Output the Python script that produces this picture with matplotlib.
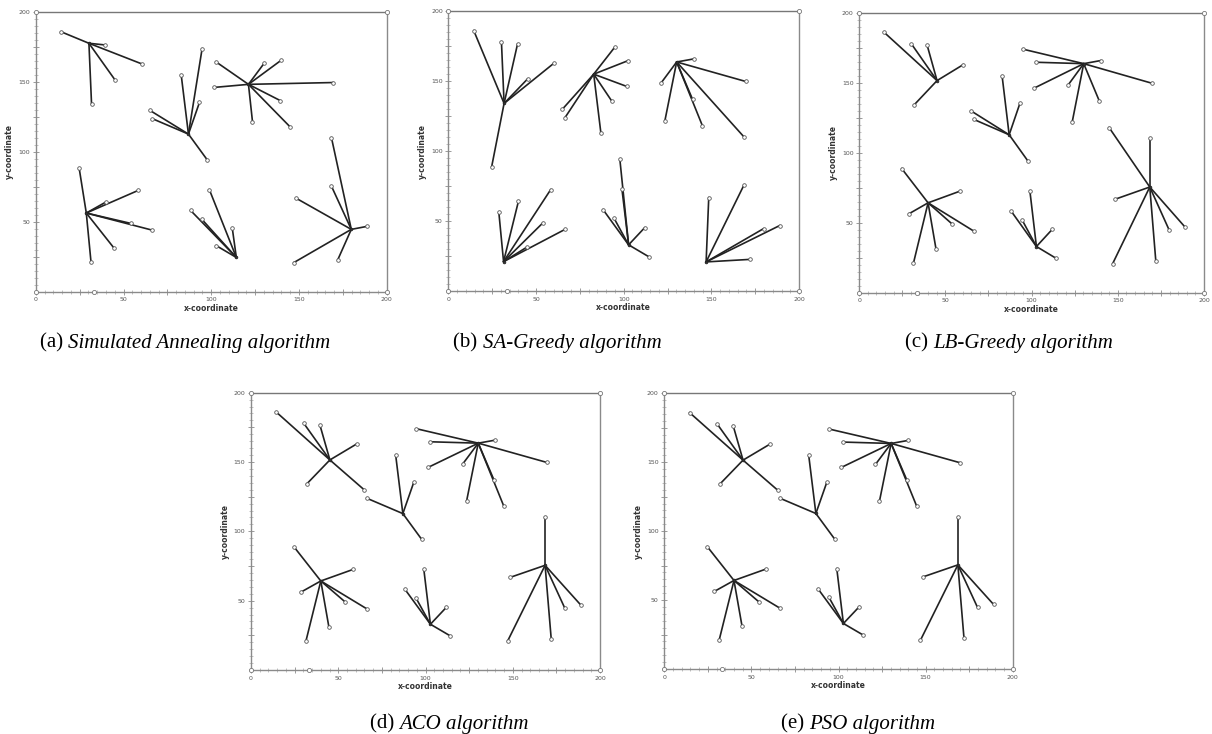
import matplotlib
matplotlib.use("Agg")
import matplotlib.pyplot as plt

# Coordenadas de los nodos (comunes a todos los paneles)
node_x = [14.5, 30.3, 39.5, 60.5, 45.2, 31.8, 65.0, 66.5, 82.9, 94.8, 93.3, 87.0, 97.8,
          102.6, 101.6, 121.2, 130.2, 140.0, 169.5, 139.3, 144.9, 123.5, 168.5, 168.5,
          148.5, 179.8, 189.0, 147.0, 172.0, 24.7, 28.8, 40.0, 58.4, 54.1, 66.5, 44.6,
          31.5, 99.0, 88.2, 94.5, 112.0, 114.3, 102.8]
node_y = [186.0, 177.8, 176.6, 163.0, 151.5, 134.0, 129.8, 123.8, 154.9, 174.0, 135.5, 112.8, 94.2,
          164.6, 146.2, 148.4, 163.6, 165.8, 149.7, 136.8, 118.0, 121.7, 110.2, 75.5,
          66.8, 44.6, 46.8, 20.8, 22.6, 88.7, 56.3, 64.2, 72.5, 48.9, 44.0, 31.2,
          21.0, 72.8, 58.2, 52.0, 45.3, 24.5, 33.0]

# cluster head -> nodos asignados, por algoritmo
stars_sa = {1: [0, 2, 3, 4, 5], 11: [8, 9, 10, 6, 7, 12], 15: [13, 14, 16, 17, 18, 19, 20, 21],
            30: [29, 31, 32, 33, 34, 35, 36], 41: [37, 38, 39, 42, 40], 25: [22, 23, 24, 26, 27, 28]}
stars_sag = {5: [0, 1, 2, 4, 3, 29], 8: [9, 13, 14, 10, 6, 7, 11], 16: [17, 15, 18, 19, 21, 20, 22],
             36: [30, 31, 32, 33, 35, 34], 42: [12, 37, 38, 39, 40, 41], 27: [24, 23, 25, 26, 28]}
stars_lbg = {4: [0, 1, 2, 3, 5], 11: [8, 10, 6, 7, 12], 16: [9, 13, 17, 14, 15, 18, 19, 21],
             31: [29, 32, 30, 33, 34, 35, 36], 42: [37, 38, 39, 40, 41], 23: [20, 22, 24, 25, 26, 27, 28]}
stars_aco = {4: [0, 1, 2, 3, 5, 6], 11: [8, 10, 7, 12], 16: [9, 13, 17, 14, 15, 18, 19, 21, 20],
             31: [29, 32, 30, 33, 34, 35, 36], 42: [37, 38, 39, 40, 41], 23: [22, 24, 25, 26, 27, 28]}
stars_pso = {4: [0, 1, 2, 3, 5, 6], 11: [8, 10, 7, 12], 16: [9, 13, 17, 14, 15, 18, 19, 21, 20],
             31: [29, 32, 30, 33, 34, 35, 36], 42: [37, 38, 39, 40, 41], 23: [22, 24, 25, 26, 27, 28]}

letters = ["(a) ", "(b) ", "(c) ", "(d) ", "(e) "]
titles = ["Simulated Annealing algorithm", "SA-Greedy algorithm", "LB-Greedy algorithm",
          "ACO algorithm", "PSO algorithm"]
all_stars = [stars_sa, stars_sag, stars_lbg, stars_aco, stars_pso]

# posiciones de los ejes [left, bottom, width, height] y de los pies de figura
axes_pos = [[0.0295, 0.6026, 0.2896, 0.3807],
            [0.3699, 0.6035, 0.2894, 0.3815],
            [0.7088, 0.6012, 0.2847, 0.3815],
            [0.2071, 0.0872, 0.2880, 0.3778],
            [0.5481, 0.0886, 0.2875, 0.3756]]
caption_pos = [(0.033, 0.526), (0.374, 0.526), (0.747, 0.526), (0.305, 0.007), (0.644, 0.007)]

AXIS_GRAY = "#8a8a8a"
fig = plt.figure(figsize=(12.12, 7.34), dpi=100)


def draw_panel(ax, stars):
    for hub, leaves in stars.items():
        for leaf in leaves:
            ax.plot([node_x[hub], node_x[leaf]], [node_y[hub], node_y[leaf]],
                    color="#222222", lw=1.2, solid_capstyle="round", zorder=2)
    leaf_ids = [l for leaves in stars.values() for l in leaves]
    ax.plot([node_x[i] for i in leaf_ids], [node_y[i] for i in leaf_ids], "o",
            ms=2.6, mfc="white", mec="#555555", mew=0.6, zorder=3)
    hubs = list(stars.keys())
    ax.plot([node_x[i] for i in hubs], [node_y[i] for i in hubs], "o",
            ms=2.0, mfc="#333333", mec="#222222", mew=0.5, zorder=3)

    ax.set_xlim(0, 200)
    ax.set_ylim(0, 200)
    for side in ["left", "bottom", "top", "right"]:
        ax.spines[side].set_color(AXIS_GRAY)
        ax.spines[side].set_linewidth(1.0)
    ax.spines["top"].set_color("#777777")

    ax.set_xticks([0, 25, 50, 75, 100, 125, 150, 175, 200])
    ax.set_xticklabels(["0", "", "50", "", "100", "", "150", "", "200"])
    ax.set_yticks([25, 50, 75, 100, 125, 150, 175, 200])
    ax.set_yticklabels(["", "50", "", "100", "", "150", "", "200"])
    ax.set_xticks(range(0, 201, 5), minor=True)
    ax.set_yticks(range(0, 201, 5), minor=True)
    ax.tick_params(which="major", direction="inout", length=4, width=0.6, color=AXIS_GRAY,
                   labelsize=4.5, labelcolor="#555555", pad=2)
    ax.tick_params(which="minor", direction="inout", length=2.5, width=0.5, color="#aaaaaa")
    ax.set_xlabel("x-coordinate", fontsize=5.5, fontweight="bold", color="#333333", labelpad=1)
    ax.set_ylabel("y-coordinate", fontsize=5.5, fontweight="bold", color="#333333", labelpad=3)

    # pequeños círculos sobre los ejes
    ax.plot([0, 0, 33.4, 200, 200], [0, 200, 0, 0, 200], "o", ms=3, mfc="white",
            mec="#777777", mew=0.6, clip_on=False, zorder=4)


for i, stars in enumerate(all_stars):
    ax = fig.add_axes(axes_pos[i])
    draw_panel(ax, stars)
    cx, cy = caption_pos[i]
    t1 = fig.text(cx, cy, letters[i], fontsize=15, family="Liberation Serif",
                  ha="left", va="baseline")
    ax.annotate(titles[i], xy=(1, 0), xycoords=t1, fontsize=15, family="Liberation Serif",
                style="italic", ha="left", va="bottom", annotation_clip=False)

plt.savefig("out.png", dpi=100)
